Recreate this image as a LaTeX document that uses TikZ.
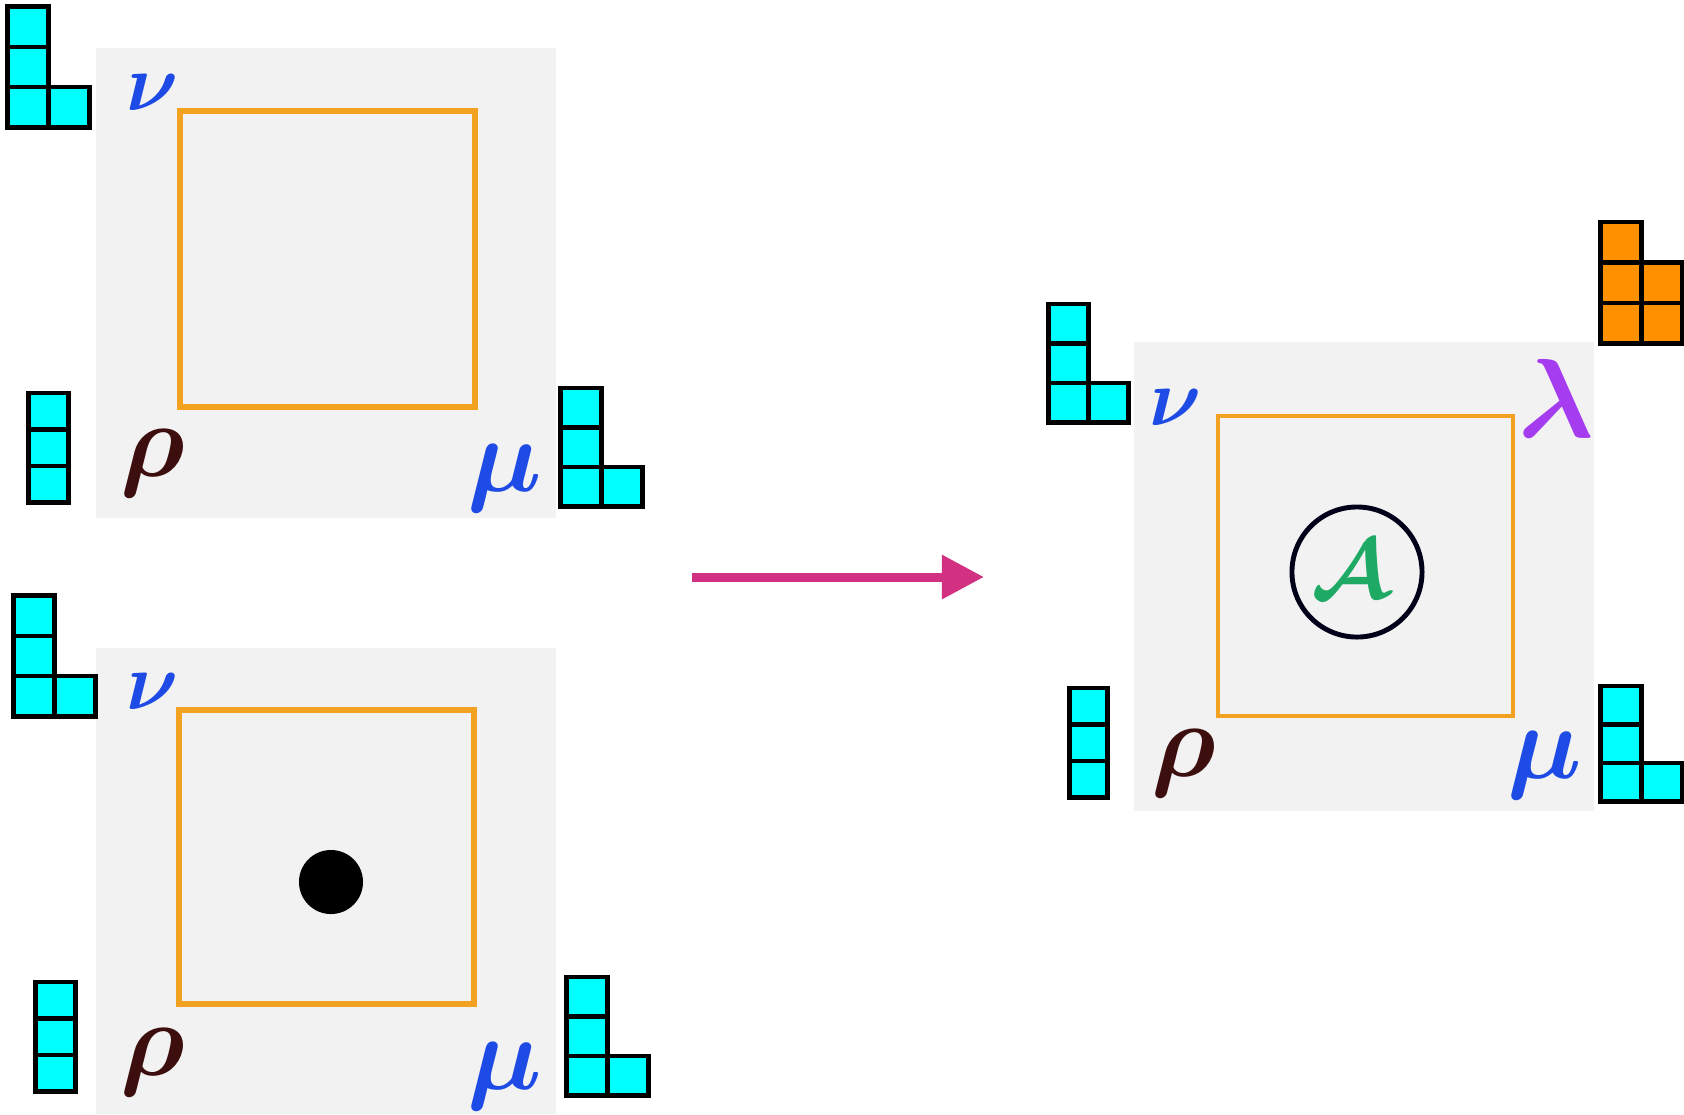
\RequirePackage{fix-cm}
\documentclass[tikz,border=0pt]{standalone}
\usepackage{bm}
\usetikzlibrary{arrows.meta}
\definecolor{boxcyan}{RGB}{0,255,255}
\definecolor{boxorange}{RGB}{255,145,0}
\definecolor{sheet}{RGB}{242,242,242}
\definecolor{marker}{RGB}{242,162,32}
\definecolor{penblue}{RGB}{30,75,230}
\definecolor{penbrown}{RGB}{60,14,14}
\definecolor{penpurple}{RGB}{165,60,240}
\definecolor{pengreen}{RGB}{30,170,100}
\definecolor{pink}{RGB}{210,48,128}
\begin{document}
\begin{tikzpicture}[x=0.01cm,y=-0.01cm,
    cell/.style={draw=black,line width=1.3pt},
    sq/.style={draw=marker,line width=1.6pt},
    lbl/.style={inner sep=0pt,font=\fontsize{30}{30}\selectfont},
    nulbl/.style={lbl,penblue,font=\fontsize{23}{23}\selectfont}]
        \useasboundingbox (0,0) rectangle (1684,1114);
        % sheets
        \fill[sheet] (96,48) rectangle (556,518);
        \fill[sheet] (96,648) rectangle (556,1114);
        \fill[sheet] (1134,342) rectangle (1594,811);
        \draw[sq] (180,111) rectangle (475,407);
        \draw[sq] (179,710) rectangle (474,1004);
        \draw[sq,line width=1.3pt] (1218,416) rectangle (1513,716);
        % top left
        \begin{scope}[shift={(7.7,127.3)}]
        \foreach \i/\j in {0/0,1/0,0/1,0/2} \draw[cell,fill=boxcyan] (\i*40.8,-\j*40.2) rectangle ++(40.8,-40.2);
        \end{scope}
        \begin{scope}[shift={(28.7,502.3)}]
        \foreach \j in {0,1,2} \draw[cell,fill=boxcyan] (0,-\j*36.5) rectangle ++(39.6,-36.5);
        \end{scope}
        \begin{scope}[shift={(560.7,506.3)}]
        \foreach \i/\j in {0/0,1/0,0/1,0/2} \draw[cell,fill=boxcyan] (\i*40.8,-\j*39.5) rectangle ++(40.8,-39.5);
        \end{scope}
        \node[nulbl] (nuA) at (153,93) {$\bm{\nu}$};
        \node[lbl,penbrown] (rhoA) at (153,463) {$\bm{\rho}$};
        \node[lbl,penblue] (muA) at (505,478) {$\bm{\mu}$};
        % bottom left
        \begin{scope}[shift={(13.7,716.3)}]
        \foreach \i/\j in {0/0,1/0,0/1,0/2} \draw[cell,fill=boxcyan] (\i*40.8,-\j*40.2) rectangle ++(40.8,-40.2);
        \end{scope}
        \begin{scope}[shift={(35.7,1091.3)}]
        \foreach \j in {0,1,2} \draw[cell,fill=boxcyan] (0,-\j*36.5) rectangle ++(39.6,-36.5);
        \end{scope}
        \begin{scope}[shift={(566.7,1095.3)}]
        \foreach \i/\j in {0/0,1/0,0/1,0/2} \draw[cell,fill=boxcyan] (\i*40.8,-\j*39.5) rectangle ++(40.8,-39.5);
        \end{scope}
        \node[nulbl] (nuB) at (153,692) {$\bm{\nu}$};
        \node[lbl,penbrown] (rhoB) at (153,1062) {$\bm{\rho}$};
        \node[lbl,penblue] (muB) at (505,1076) {$\bm{\mu}$};
        \node[circle,fill=black,minimum size=0.64cm,inner sep=0pt] (dot) at (331,882) {};
        % right
        \begin{scope}[shift={(1048.7,422.3)}]
        \foreach \i/\j in {0/0,1/0,0/1,0/2} \draw[cell,fill=boxcyan] (\i*39.8,-\j*39.5) rectangle ++(39.8,-39.5);
        \end{scope}
        \begin{scope}[shift={(1600.7,343.3)}]
        \foreach \i/\j in {0/0,1/0,0/1,1/1,0/2} \draw[cell,fill=boxorange] (\i*40.8,-\j*40.5) rectangle ++(40.8,-40.5);
        \end{scope}
        \begin{scope}[shift={(1069.7,797.3)}]
        \foreach \j in {0,1,2} \draw[cell,fill=boxcyan] (0,-\j*36.5) rectangle ++(37.6,-36.5);
        \end{scope}
        \begin{scope}[shift={(1600.7,801.3)}]
        \foreach \i/\j in {0/0,1/0,0/1,0/2} \draw[cell,fill=boxcyan] (\i*40.8,-\j*38.5) rectangle ++(40.8,-38.5);
        \end{scope}
        \node[nulbl] (nuC) at (1176,408) {$\bm{\nu}$};
        \node[lbl,penpurple,font=\fontsize{32}{32}\selectfont] (lamC) at (1556,398) {$\bm{\lambda}$};
        \node[lbl,penbrown] (rhoC) at (1184,763) {$\bm{\rho}$};
        \node[lbl,penblue] (muC) at (1545,765) {$\bm{\mu}$};
        \node[circle,draw=black!90!blue,line width=1.4pt,minimum size=1.3cm,inner sep=0pt] (ring) at (1357,572) {};
        \node[lbl,pengreen,font=\fontsize{24}{24}\selectfont] (sigC) at (1350,570) {$\bm{\mathcal{A}}$};
        % arrow
        \coordinate (from) at (692,577);
        \coordinate (to) at (984,577);
        \draw[pink,line width=0.09cm,-{Triangle[length=0.42cm,width=0.42cm]}] (from) -- (to);
        \end{tikzpicture}
\end{document}
